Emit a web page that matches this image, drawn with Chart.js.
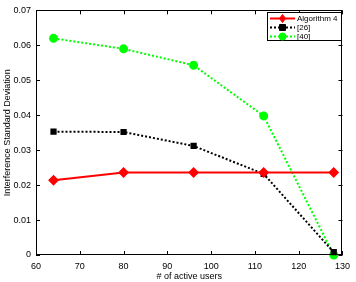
<!DOCTYPE html>
<html>
<head>
<meta charset="utf-8">
<script src="https://cdn.jsdelivr.net/npm/chart.js@4"></script>
<style>
  html, body { margin: 0; padding: 0; background: #fff; }
  #wrap { width: 356px; height: 282px; }
</style>
</head>
<body>
<div id="wrap"><canvas id="c" width="356" height="282"></canvas></div>
<script>
const users = [64, 80, 96, 112, 128];
const alg4 = [0.0214, 0.0236, 0.0236, 0.0236, 0.0236];
const ref26 = [0.0353, 0.0352, 0.0312, 0.0232, 0.0008];
const ref40 = [0.0620, 0.0590, 0.0543, 0.0398, 0.0000];
const seriesNames = ['Algorithm 4', '[26]', '[40]'];

const FONT = 'Liberation Sans, Arial, sans-serif';

function pts(vals) {
    return users.map((u, i) => ({ x: u, y: vals[i] }));
}

function marker(ctx, style, r, x, y) {
    ctx.beginPath();
    if (style === 'circle') {
        ctx.arc(x, y, r, 0, Math.PI * 2);
    } else if (style === 'rect') {
        ctx.rect(x - r, y - r, 2 * r, 2 * r);
    } else {
        ctx.moveTo(x, y - r); ctx.lineTo(x + r * 0.75, y);
        ctx.lineTo(x, y + r); ctx.lineTo(x - r * 0.75, y);
        ctx.closePath();
    }
    ctx.fill(); ctx.stroke();
}

// box + inward ticks like matlab, plus the legend
const boxPlugin = {
    id: 'box',
    afterDatasetsDraw(chart) {
        const ctx = chart.ctx;
        const a = chart.chartArea;
        const xs = chart.scales.x, ys = chart.scales.y;
        ctx.save();
        ctx.strokeStyle = '#000';
        ctx.lineWidth = 1;
        ctx.strokeRect(Math.round(a.left) + 0.5, Math.round(a.top) + 0.5,
            Math.round(a.right - a.left) - 1, Math.round(a.bottom - a.top) - 1);
        ctx.beginPath();
        xs.ticks.forEach(t => {
            const px = Math.round(xs.getPixelForValue(t.value)) + 0.5;
            ctx.moveTo(px, a.bottom); ctx.lineTo(px, a.bottom - 4);
            ctx.moveTo(px, a.top); ctx.lineTo(px, a.top + 4);
        });
        ys.ticks.forEach(t => {
            const py = Math.round(ys.getPixelForValue(t.value)) + 0.5;
            ctx.moveTo(a.left, py); ctx.lineTo(a.left + 4, py);
            ctx.moveTo(a.right, py); ctx.lineTo(a.right - 4, py);
        });
        ctx.stroke();

        // legend
        const lx = 267, ly = 12, lw = 74, lh = 28;
        ctx.fillStyle = '#fff';
        ctx.fillRect(lx, ly, lw, lh);
        ctx.strokeRect(lx + 0.5, ly + 0.5, lw, lh);
        ctx.font = '8px ' + FONT;
        ctx.textBaseline = 'middle';
        chart.data.datasets.forEach((ds, i) => {
            const y = ly + 6.5 + i * 9;
            ctx.save();
            ctx.strokeStyle = ds.borderColor;
            ctx.lineWidth = ds.borderWidth;
            ctx.setLineDash(ds.borderDash || []);
            ctx.beginPath();
            ctx.moveTo(lx + 3, y); ctx.lineTo(lx + 28, y);
            ctx.stroke();
            ctx.restore();
            ctx.fillStyle = ds.pointBackgroundColor;
            ctx.strokeStyle = ds.pointBorderColor;
            ctx.lineWidth = 1;
            marker(ctx, ds.pointStyle, ds.pointRadius, lx + 15.5, y);
            ctx.fillStyle = '#000';
            ctx.fillText(ds.label, lx + 30, y + 0.5);
        });
        ctx.restore();
    }
};

new Chart(document.getElementById('c'), {
    type: 'line',
    data: {
        datasets: [
            {
                label: seriesNames[0],
                data: pts(alg4),
                borderColor: '#ff0000',
                backgroundColor: '#ff0000',
                borderWidth: 2,
                pointStyle: 'rectRot',
                pointRadius: 4,
                pointBackgroundColor: '#ff0000',
                pointBorderColor: '#ff0000'
            },
            {
                label: seriesNames[1],
                data: pts(ref26),
                borderColor: '#000000',
                backgroundColor: '#000000',
                borderWidth: 2,
                borderDash: [2, 2],
                pointStyle: 'rect',
                pointRadius: 3,
                pointBackgroundColor: '#000000',
                pointBorderColor: '#000000'
            },
            {
                label: seriesNames[2],
                data: pts(ref40),
                borderColor: '#00ff00',
                backgroundColor: '#00ff00',
                borderWidth: 2,
                borderDash: [2, 2],
                pointStyle: 'circle',
                pointRadius: 3.5,
                pointBackgroundColor: '#00ff00',
                pointBorderColor: '#00ff00'
            }
        ]
    },
    options: {
        responsive: false,
        animation: false,
        clip: false,
        layout: { padding: { top: 3, right: 9, left: 0, bottom: 0 } },
        plugins: {
            legend: { display: false },
            tooltip: { enabled: false }
        },
        scales: {
            x: {
                type: 'linear',
                min: 60, max: 130,
                grid: { display: false, drawTicks: false },
                border: { display: false },
                ticks: {
                    stepSize: 10,
                    color: '#000',
                    font: { family: FONT, size: 9 },
                    padding: 6,
                    maxRotation: 0
                },
                title: {
                    display: true,
                    text: '# of active users',
                    color: '#000',
                    font: { family: FONT, size: 9 },
                    padding: { top: 2, bottom: 0 }
                },
                afterFit(s) { s.height = 27; }
            },
            y: {
                min: 0, max: 0.07,
                grid: { display: false, drawTicks: false },
                border: { display: false },
                ticks: {
                    stepSize: 0.01,
                    color: '#000',
                    font: { family: FONT, size: 9 },
                    padding: 5,
                    callback: v => v === 0 ? '0' : v.toFixed(2)
                },
                title: {
                    display: true,
                    text: 'Interference Standard Deviation',
                    color: '#000',
                    font: { family: FONT, size: 9 },
                    padding: { top: 2, bottom: 2 }
                },
                afterFit(s) { s.width = 36; }
            }
        }
    },
    plugins: [boxPlugin]
});
</script>
</body>
</html>
